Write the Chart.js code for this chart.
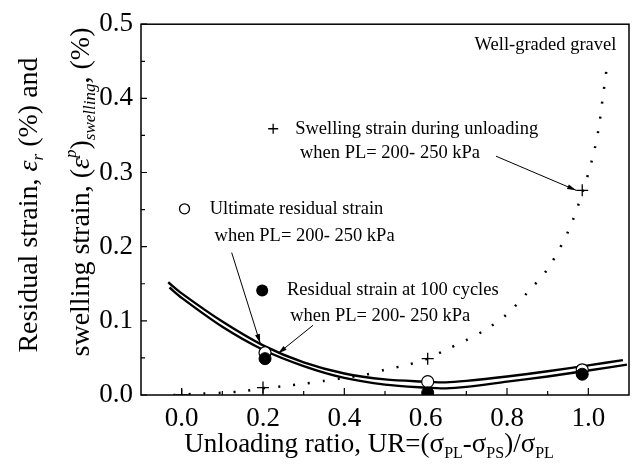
<!DOCTYPE html>
<html>
<head>
<meta charset="utf-8">
<script src="https://cdn.jsdelivr.net/npm/chart.js@4.4.1/dist/chart.umd.min.js"></script>
<style>
  html, body { margin: 0; padding: 0; background: #fff; }
  #wrap { width: 640px; height: 466px; }
</style>
</head>
<body>
<div id="wrap"><canvas id="myChart" width="640" height="466"></canvas></div>
<script>
// tick values
const xTickValues = [0.0, 0.2, 0.4, 0.6, 0.8, 1.0];
const xMinorValues = [0.1, 0.3, 0.5, 0.7, 0.9];
const yTickValues = [0.0, 0.1, 0.2, 0.3, 0.4, 0.5];
const yMinorValues = [0.05, 0.15, 0.25, 0.35, 0.45];

// measured points
const urPoints = [0.205, 0.605, 0.985];
const ultimateResidual = [0.057, 0.018, 0.034];
const residual100 = [0.049, 0.003, 0.028];
const swellPointsX = [0.0, 0.2, 0.605, 0.985];
const swellPointsY = [0.0, 0.010, 0.049, 0.276];

// fitted curves
const fitUpperX = [-0.033, 0.0, 0.1, 0.2, 0.3, 0.4, 0.5, 0.6, 0.65, 0.7, 0.8, 0.9, 1.0, 1.085];
const fitUpperY = [0.152, 0.137, 0.099, 0.067, 0.044, 0.029, 0.021, 0.018, 0.017, 0.019, 0.025, 0.032, 0.040, 0.047];
const fitLowerX = [-0.03, 0.0, 0.1, 0.2, 0.3, 0.4, 0.5, 0.6, 0.65, 0.7, 0.8, 0.9, 1.0, 1.095];
const fitLowerY = [0.145, 0.131, 0.092, 0.061, 0.039, 0.023, 0.014, 0.010, 0.009, 0.011, 0.018, 0.025, 0.033, 0.041];
const swellCurveX = [-0.02, 0.05, 0.1, 0.15, 0.2, 0.25, 0.3, 0.35, 0.4, 0.45, 0.5, 0.55, 0.6, 0.65, 0.7, 0.75, 0.8, 0.85, 0.9, 0.95, 0.985, 1.01, 1.025, 1.035, 1.045];
const swellCurveY = [0.0, 0.002, 0.003, 0.005, 0.009, 0.012, 0.015, 0.019, 0.023, 0.027, 0.034, 0.040, 0.048, 0.061, 0.074, 0.089, 0.109, 0.138, 0.170, 0.220, 0.272, 0.319, 0.358, 0.399, 0.440];

const pts = (xs, ys) => xs.map((x, i) => ({ x: x, y: ys[i] }));
const FONT = '"Liberation Serif", "Times New Roman", serif';

function drawRich(ctx, parts, x, y) {
    let w = 0;
    parts.forEach(p => {
        ctx.font = (p.italic ? 'italic ' : '') + p.size + 'px ' + FONT;
        w += ctx.measureText(p.t).width;
    });
    let cx = x - w / 2;
    parts.forEach(p => {
        ctx.font = (p.italic ? 'italic ' : '') + p.size + 'px ' + FONT;
        ctx.fillText(p.t, cx, y + (p.dy || 0));
        cx += ctx.measureText(p.t).width;
    });
}

function arrow(ctx, x1, y1, x2, y2) {
    ctx.beginPath();
    ctx.moveTo(x1, y1);
    ctx.lineTo(x2, y2);
    ctx.lineWidth = 1;
    ctx.stroke();
    let a = Math.atan2(y2 - y1, x2 - x1);
    ctx.beginPath();
    ctx.moveTo(x2, y2);
    ctx.lineTo(x2 - 9 * Math.cos(a) + 2.5 * Math.sin(a), y2 - 9 * Math.sin(a) - 2.5 * Math.cos(a));
    ctx.lineTo(x2 - 9 * Math.cos(a) - 2.5 * Math.sin(a), y2 - 9 * Math.sin(a) + 2.5 * Math.cos(a));
    ctx.closePath();
    ctx.fill();
}

const decor = {
    id: 'decor',
    afterDraw(chart) {
        const ctx = chart.ctx;
        const xs = chart.scales.x, ys = chart.scales.y;
        const a = chart.chartArea;
        const px = v => xs.getPixelForValue(v);
        const py = v => ys.getPixelForValue(v);
        ctx.save();
        ctx.strokeStyle = '#000';
        ctx.fillStyle = '#000';

        // frame
        ctx.lineWidth = 1.5;
        ctx.strokeRect(a.left, a.top, a.right - a.left, a.bottom - a.top);

        // inward ticks
        ctx.lineWidth = 1.2;
        ctx.beginPath();
        xTickValues.forEach(v => { ctx.moveTo(px(v), a.bottom); ctx.lineTo(px(v), a.bottom - 7); });
        xMinorValues.forEach(v => { ctx.moveTo(px(v), a.bottom); ctx.lineTo(px(v), a.bottom - 4); });
        yTickValues.forEach(v => { ctx.moveTo(a.left, py(v)); ctx.lineTo(a.left + 6, py(v)); });
        yMinorValues.forEach(v => { ctx.moveTo(a.left, py(v)); ctx.lineTo(a.left + 4, py(v)); });
        ctx.stroke();

        // annotations
        ctx.textBaseline = 'middle';
        ctx.textAlign = 'left';
        ctx.font = '18.5px ' + FONT;
        ctx.fillText('Swelling strain during unloading', px(0.279), py(0.359));
        ctx.fillText('when PL= 200- 250 kPa', px(0.291), py(0.326));
        ctx.fillText('Ultimate residual strain', px(0.069), py(0.251));
        ctx.fillText('when PL= 200- 250 kPa', px(0.081), py(0.214));
        ctx.fillText('Residual strain at 100 cycles', px(0.259), py(0.141));
        ctx.fillText('when PL= 200- 250 kPa', px(0.267), py(0.106));
        ctx.textAlign = 'right';
        ctx.fillText('Well-graded gravel', px(1.069), py(0.472));

        // legend glyphs
        ctx.lineWidth = 1.3;
        let cx = px(0.225), cy = py(0.359);
        ctx.beginPath();
        ctx.moveTo(cx - 5, cy); ctx.lineTo(cx + 5, cy);
        ctx.moveTo(cx, cy - 5); ctx.lineTo(cx, cy + 5);
        ctx.stroke();
        ctx.beginPath();
        ctx.arc(px(0.007), py(0.251), 5, 0, Math.PI * 2);
        ctx.stroke();
        ctx.beginPath();
        ctx.arc(px(0.198), py(0.141), 6, 0, Math.PI * 2);
        ctx.fill();

        // arrows
        arrow(ctx, px(0.773), py(0.322), px(0.970), py(0.276));
        arrow(ctx, px(0.123), py(0.192), px(0.193), py(0.070));
        arrow(ctx, px(0.323), py(0.094), px(0.237), py(0.056));

        // axis titles
        ctx.textAlign = 'left';
        ctx.textBaseline = 'alphabetic';
        drawRich(ctx, [
            { t: 'Unloading ratio, UR=(', size: 27 },
            { t: '\u03c3', size: 27 }, { t: 'PL', size: 16, dy: 6 },
            { t: '-\u03c3', size: 27 }, { t: 'PS', size: 16, dy: 6 },
            { t: ')/\u03c3', size: 27 }, { t: 'PL', size: 16, dy: 6 }
        ], 369, 452);

        ctx.translate(37, 205);
        ctx.rotate(-Math.PI / 2);
        drawRich(ctx, [
            { t: 'Residual strain, ', size: 28 },
            { t: '\u03b5', size: 28, italic: true },
            { t: 'r', size: 17, italic: true, dy: 6 },
            { t: ' (%) and', size: 28 }
        ], 0, 0);
        ctx.rotate(Math.PI / 2);
        ctx.translate(-37, -205);

        ctx.translate(89, 192);
        ctx.rotate(-Math.PI / 2);
        drawRich(ctx, [
            { t: 'swelling strain, (', size: 28 },
            { t: '\u03b5', size: 28, italic: true },
            { t: 'p', size: 17, italic: true, dy: -13 },
            { t: ')', size: 28 },
            { t: 'swelling', size: 17, italic: true, dy: 6 },
            { t: ', (%)', size: 28 }
        ], 0, 0);
        ctx.restore();
    }
};

const ctx = document.getElementById('myChart').getContext('2d');
const chart = new Chart(ctx, {
    type: 'scatter',
    data: {
        datasets: [
            {
                label: 'Residual strain at 100 cycles',
                data: pts(urPoints, residual100),
                pointStyle: 'circle', pointRadius: 6,
                backgroundColor: '#000', borderColor: '#000', borderWidth: 1,
                order: 1
            },
            {
                label: 'Ultimate residual strain',
                data: pts(urPoints, ultimateResidual),
                pointStyle: 'circle', pointRadius: 6,
                backgroundColor: '#fff', borderColor: '#000', borderWidth: 1.2,
                order: 2
            },
            {
                label: 'Swelling strain during unloading',
                data: pts(swellPointsX, swellPointsY),
                pointStyle: 'cross', pointRadius: 6,
                borderColor: '#000', borderWidth: 1.3,
                order: 3
            },
            {
                label: 'fit upper',
                data: pts(fitUpperX, fitUpperY),
                showLine: true, pointRadius: 0, tension: 0.3,
                borderColor: '#000', borderWidth: 2.4,
                order: 4
            },
            {
                label: 'fit lower',
                data: pts(fitLowerX, fitLowerY),
                showLine: true, pointRadius: 0, tension: 0.3,
                borderColor: '#000', borderWidth: 2.4,
                order: 5
            },
            {
                label: 'swelling trend',
                data: pts(swellCurveX, swellCurveY),
                showLine: true, pointRadius: 0, tension: 0.3,
                borderColor: '#000', borderWidth: 2.5, borderDash: [2, 13],
                order: 6
            }
        ]
    },
    options: {
        animation: false,
        responsive: false,
        events: [],
        layout: { padding: { left: 0, right: 11, top: 22, bottom: 0 } },
        plugins: { legend: { display: false }, tooltip: { enabled: false } },
        scales: {
            x: {
                type: 'linear', min: -0.1, max: 1.1,
                afterBuildTicks: s => { s.ticks = xTickValues.map(v => ({ value: v })); },
                afterFit: s => { s.height = 71; },
                grid: { display: false, drawTicks: false },
                border: { display: false },
                ticks: {
                    color: '#000', padding: 8,
                    font: { family: FONT, size: 27 },
                    callback: v => v.toFixed(1)
                }
            },
            y: {
                type: 'linear', min: 0, max: 0.5,
                afterBuildTicks: s => { s.ticks = yTickValues.map(v => ({ value: v })); },
                afterFit: s => { s.width = 141; },
                grid: { display: false, drawTicks: false },
                border: { display: false },
                ticks: {
                    color: '#000', padding: 8,
                    font: { family: FONT, size: 27 },
                    callback: v => v.toFixed(1)
                }
            }
        }
    },
    plugins: [decor]
});
</script>
</body>
</html>
